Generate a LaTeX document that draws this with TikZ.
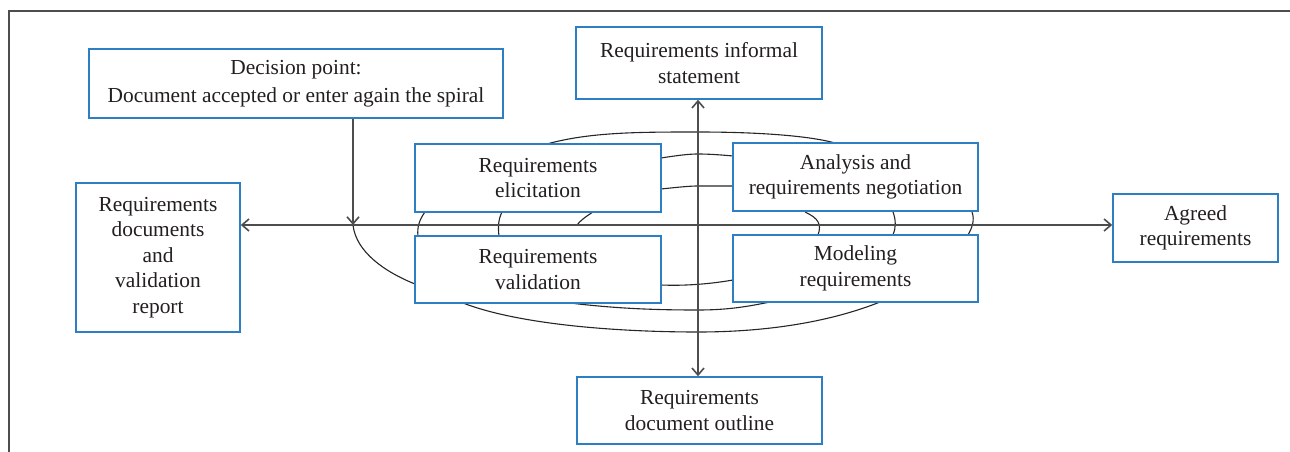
\documentclass[tikz,border=0pt]{standalone}
\usepackage{fontspec}
\setmainfont{Liberation Serif}
\usetikzlibrary{arrows.meta}
\definecolor{boxblue}{HTML}{2E7EC3}
\definecolor{axisgray}{HTML}{4D4D4D}
\definecolor{txt}{HTML}{231F20}
\begin{document}
\begin{tikzpicture}[x=1pt,y=-1pt,
  box/.style={draw=boxblue, line width=1.5pt, fill=white, inner sep=0pt, align=center, text=txt,
    font=\fontsize{21.4}{25.5}\selectfont},
  axisline/.style={draw=axisgray, line width=1.6pt},
  tip/.style={arrows={-Straight Barb[length=7pt,width=12pt]}},
  bothtip/.style={arrows={Straight Barb[length=7pt,width=12pt]-Straight Barb[length=7pt,width=12pt]}},
  spiral/.style={draw=black!85, line width=1.1pt},
  frameline/.style={draw=axisgray, line width=1.8pt}]
\useasboundingbox (0,0) rectangle (1290,452);

% frame
\coordinate (fbl) at (9,452);
\coordinate (ftl) at (9,11);
\coordinate (ftr) at (1290,11);
\draw[frameline] (fbl) -- (ftl) -- (ftr);

% helper coordinates for axes
\coordinate (axisY) at (0,225);
\coordinate (vx) at (698,0);
\coordinate (dp) at (353,225);

% spiral curves (drawn before boxes)
\draw[spiral] (dp) .. controls (356,252) and (385,272) .. (415,284);
\draw[spiral] (463,303) .. controls (520,325) and (620,332) .. (698,332) .. controls (780,332) and (840,318) .. (880,302);
\draw[spiral] (570,303) .. controls (620,309) and (660,310) .. (698,310) .. controls (730,310) and (750,306) .. (770,302);
\draw[spiral] (661,285) .. controls (685,286) and (710,284) .. (733,280);
\draw[spiral] (547,144) .. controls (590,132) and (640,132) .. (698,132) .. controls (760,132) and (810,136) .. (835,143);
\draw[spiral] (661,158) .. controls (680,155) and (690,154) .. (698,154) .. controls (710,154) and (722,155) .. (733,156);
\draw[spiral] (661,189) .. controls (680,187) and (690,186) .. (698,186) .. controls (710,186) and (722,186) .. (733,186);
\draw[spiral] (425,212) .. controls (419,220) and (417,228) .. (418,236);
\draw[spiral] (502,212) .. controls (498,220) and (498,228) .. (499,236);
\draw[spiral] (593,212) .. controls (585,217) and (580,221) .. (577,225);
\draw[spiral] (805,212) .. controls (818,218) and (822,224) .. (818,235);
\draw[spiral] (893,212) .. controls (896,220) and (896,228) .. (893,235);
\draw[spiral] (972,212) .. controls (975,220) and (972,228) .. (968,235);

% boxes
\node[box, minimum width=414pt, minimum height=69pt, font=\fontsize{21.4}{28}\selectfont] (dec) at (296,83.5)
  {Decision point:\\Document accepted or enter again the spiral};
\node[box, minimum width=246pt, minimum height=72pt] (inf) at (699,63)
  {Requirements informal\\statement};
\node[box, minimum width=246pt, minimum height=68pt] (eli) at (538,178)
  {Requirements\\elicitation};
\node[box, minimum width=246pt, minimum height=67pt] (val) at (538,269.5)
  {Requirements\\validation};
\node[box, minimum width=245pt, minimum height=68pt] (ana) at (855.5,177)
  {Analysis and\\requirements negotiation};
\node[box, minimum width=245pt, minimum height=67pt] (mod) at (855.5,268.5)
  {Modeling\\requirements};
\node[box, minimum width=164pt, minimum height=149pt] (doc) at (158,257.5)
  {Requirements\\documents\\and\\validation\\report};
\node[box, minimum width=165pt, minimum height=68pt] (agr) at (1195.5,228)
  {Agreed\\requirements};
\node[box, minimum width=245pt, minimum height=67pt] (out) at (699.5,410.5)
  {Requirements\\document outline};

% axes
\draw[axisline, bothtip] (doc.east |- axisY) -- (agr.west |- axisY);
\draw[axisline, bothtip] (inf.south -| vx) -- (out.north -| vx);
\draw[axisline, tip] (dec.south -| dp) -- (dp);
\end{tikzpicture}
\end{document}
